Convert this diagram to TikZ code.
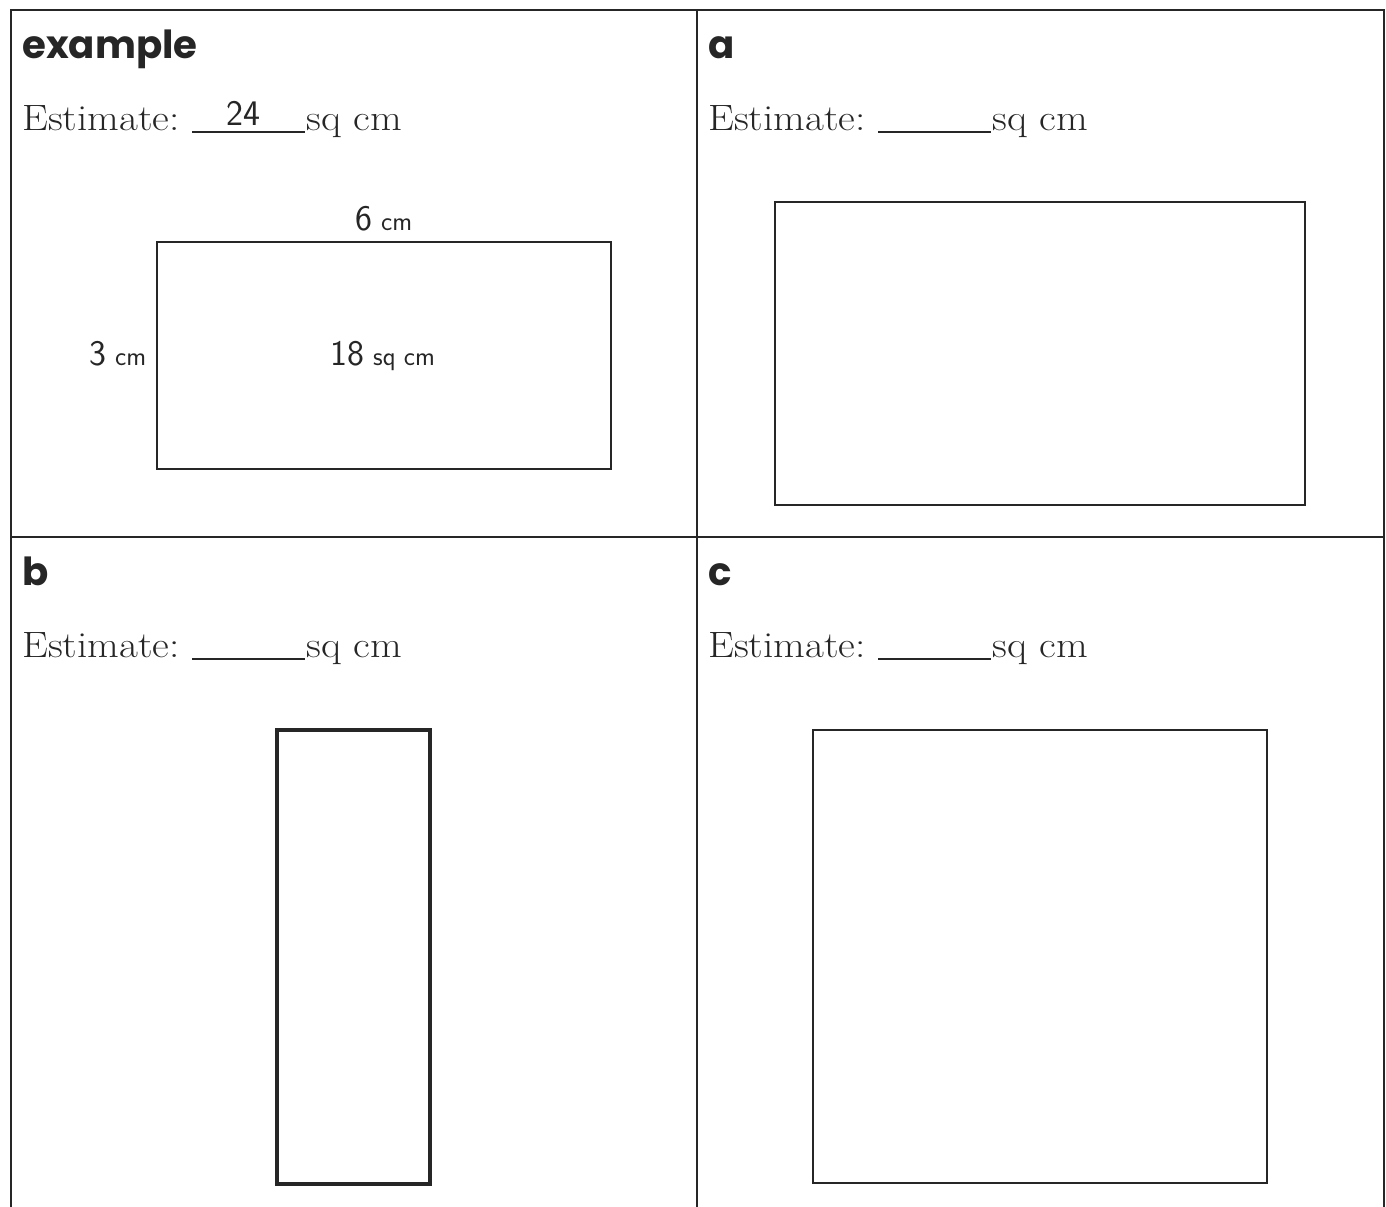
\documentclass[tikz,border=0pt]{standalone}
\usepackage{fontspec}
\newfontfamily\labfont{Poppins}
\newfontfamily\estfont{Latin Modern Roman}[FakeStretch=1.12]
\begin{document}
\begin{tikzpicture}[x=0.75pt,y=-0.75pt,
  frame/.style={line width=1.9pt,draw=black!85},
  figbox/.style={draw=black!85,line width=1.9pt,fill=none,inner sep=0pt},
  lab/.style={anchor=base west,inner sep=0pt,font=\labfont\bfseries\fontsize{29}{34}\selectfont,text=black!85},
  est/.style={anchor=base west,inner sep=0pt,font=\estfont\fontsize{27.5}{33}\selectfont,text=black!85},
  hand/.style={inner sep=0pt,font=\sffamily\fontsize{20}{25}\selectfont,text=black!85},
  blank/.style={line width=1.3pt,draw=black!85}]
\newcommand\bigdig[1]{{\fontsize{27}{30}\selectfont #1}}
\useasboundingbox (0,0) rectangle (1386,1207);
% frame
\coordinate (tl) at (11,10); \coordinate (tr) at (1384,10);
\coordinate (bl) at (11,1207); \coordinate (br) at (1384,1207);
\coordinate (tm) at (697,10); \coordinate (bm) at (697,1207);
\coordinate (ml) at (11,537); \coordinate (mr) at (1384,537);
\draw[frame] (bl) -- (tl) -- (tr) -- (br);
\draw[frame] (tm) -- (bm);
\draw[frame] (ml) -- (mr);
% labels
\node[lab] (lex) at (22,58) {example};
\node[lab] (la) at (708,58) {a};
\node[lab] (lb) at (22,585) {b};
\node[lab] (lc) at (708,585) {c};
% estimates
\foreach \n/\x/\y in {e/22/130,a/708/130,b/22/657,c/708/657}{
  \node[est] (est\n) at (\x,\y) {Estimate:};
  \coordinate (u\n1) at ({\x+170},{\y+2});
  \coordinate (u\n2) at ({\x+283},{\y+2});
  \draw[blank] (u\n1) -- (u\n2);
  \node[est] (sq\n) at ({\x+284},\y) {sq cm};
}
\node[hand,anchor=base] (v24) at (243,125) {\bigdig{24}};
% rectangles
\node[figbox,minimum width=454*0.75pt,minimum height=227*0.75pt] (rex) at (384,355.5) {};
\node[figbox,minimum width=530*0.75pt,minimum height=303*0.75pt] (ra) at (1040,353.5) {};
\node[figbox,line width=2.4pt,minimum width=153*0.75pt,minimum height=454*0.75pt] (rb) at (353.5,957) {};
\node[figbox,minimum width=454*0.75pt,minimum height=453*0.75pt] (rc) at (1040,956.5) {};
% handwritten labels of the example
\node[hand,anchor=base] (w6) at (384,230) {\bigdig{6} cm};
\node[hand,anchor=base] (h3) at (118,365) {\bigdig{3} cm};
\node[hand,anchor=base] (ar) at (383,365) {\bigdig{18} sq cm};
\end{tikzpicture}
\end{document}
